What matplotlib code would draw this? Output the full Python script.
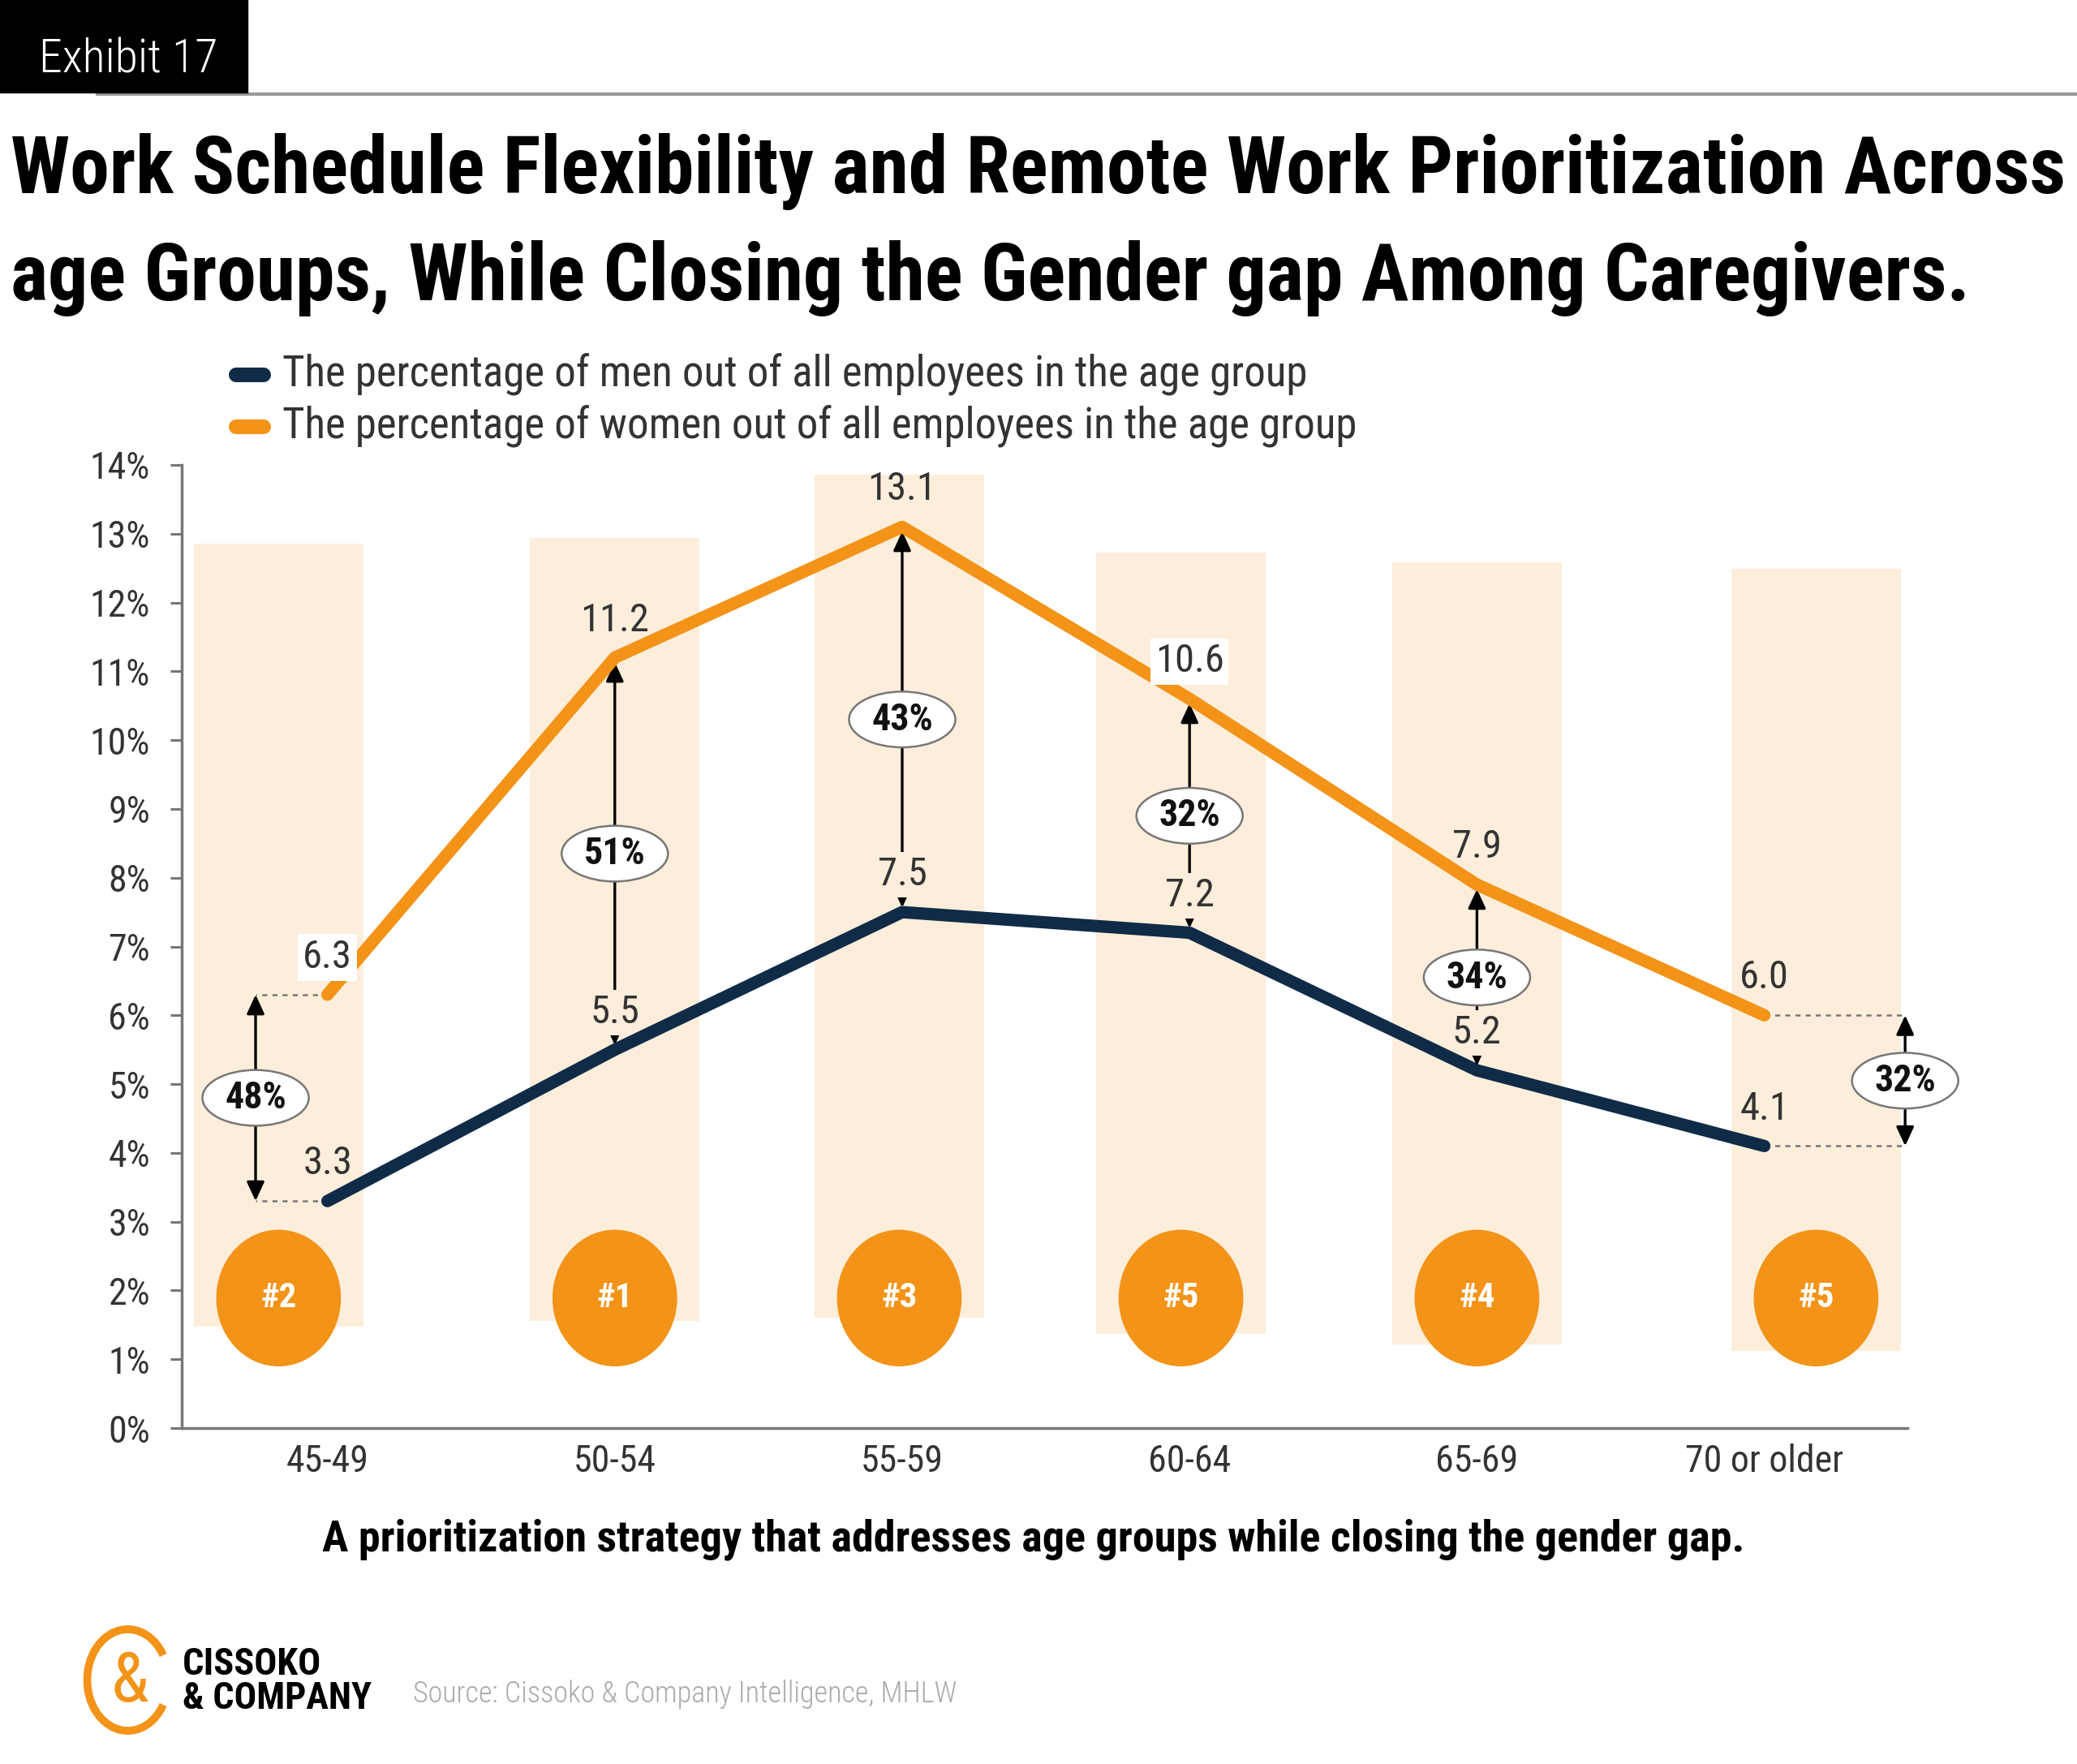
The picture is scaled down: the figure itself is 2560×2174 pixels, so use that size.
import numpy as np
import matplotlib
matplotlib.use("Agg")
import matplotlib.pyplot as plt
from matplotlib.patches import Ellipse, Rectangle, Arc
from matplotlib.lines import Line2D

plt.rcParams['font.family'] = ['Roboto Condensed', 'Liberation Sans Narrow', 'DejaVu Sans']

# data
age_groups = ['45-49', '50-54', '55-59', '60-64', '65-69', '70 or older']
men_pct = [3.3, 5.5, 7.5, 7.2, 5.2, 4.1]
women_pct = [6.3, 11.2, 13.1, 10.6, 7.9, 6.0]
gap_labels = ['48%', '51%', '43%', '32%', '34%', '32%']
priority_rank = ['#2', '#1', '#3', '#5', '#4', '#5']
band_top = [12.86, 12.94, 13.86, 12.73, 12.59, 12.49]
band_bottom = [1.48, 1.56, 1.60, 1.37, 1.21, 1.12]
series_labels = ['The percentage of men out of all employees in the age group',
                 'The percentage of women out of all employees in the age group']
y_ticks = list(range(0, 15))

title_lines = ['Work Schedule Flexibility and Remote Work Prioritization Across',
               'age Groups, While Closing the Gender gap Among Caregivers.']
subtitle = 'A prioritization strategy that addresses age groups while closing the gender gap.'
source = 'Source: Cissoko & Company Intelligence, MHLW'

# colours
ORANGE = '#F39318'
NAVY = '#102B47'
BAND = '#FDEEDB'
GREY = '#777777'
TXT = '#333333'

# layout only
band_shift = [-0.17, 0.0, -0.01, -0.03, 0.0, 0.18]
arrow_shift = [-0.25, 0, 0, 0, 0, 0.49]

W, H = 2560, 2174
fig = plt.figure(figsize=(W / 100, H / 100), dpi=100)
renderer = fig.canvas.get_renderer()


def fy(py):
    return 1 - py / H


def fit(t, width_px):
    bb = t.get_window_extent(renderer)
    t.set_fontsize(t.get_fontsize() * width_px / bb.width)


# header
fig.patches.append(Rectangle((0, fy(114)), 305 / W, 114 / H, transform=fig.transFigure,
                             color='black', zorder=2))
fig.add_artist(Line2D([120 / W, 1], [fy(116), fy(116)], transform=fig.transFigure,
                      color='#9a9a9a', lw=3, zorder=1))
t = fig.text(158 / W, fy(90), 'Exhibit 17', color='white', ha='center', va='baseline',
             fontsize=50, fontweight='light', zorder=3)
fit(t, 220)

t1 = fig.text(13 / W, fy(238), title_lines[0], fontsize=80, fontweight='heavy',
              va='baseline')
fit(t1, 2534)
t2 = fig.text(13 / W, fy(370), title_lines[1], fontsize=t1.get_fontsize(),
              fontweight='heavy', va='baseline')

# legend
for row, (lab, col) in enumerate(zip(series_labels, [NAVY, ORANGE])):
    yy = fy(462 + row * 64)
    fig.add_artist(Line2D([291 / W, 325 / W], [yy, yy], transform=fig.transFigure, color=col,
                          lw=13, solid_capstyle='round'))
    lt = fig.text(348 / W, yy, lab, fontsize=30, color=TXT, va='center')
    fit(lt, 1262 + row * 62)

# main axes
ax = fig.add_axes([224 / W, 1 - 1760 / H, 2127 / W, 1187 / H])
x = np.arange(len(age_groups))

ax.bar(x + np.array(band_shift), np.subtract(band_top, band_bottom), bottom=band_bottom,
       width=0.59, color=BAND, zorder=0)

for i in range(len(x)):
    ax.add_patch(Ellipse((x[i] + band_shift[i], 1.89), 0.43, 1.97, color=ORANGE, zorder=2))
    ax.text(x[i] + band_shift[i], 1.89, priority_rank[i], color='white', fontsize=31,
            fontweight='bold', ha='center', va='center', zorder=3)

ax.plot(x, women_pct, color=ORANGE, lw=11, solid_capstyle='round', solid_joinstyle='round',
        zorder=4, label=series_labels[1])
ax.plot(x, men_pct, color=NAVY, lw=11, solid_capstyle='round', solid_joinstyle='round',
        zorder=4, label=series_labels[0])

# gap arrows
for i in range(len(x)):
    xa = x[i] + arrow_shift[i]
    m, w = men_pct[i], women_pct[i]
    if arrow_shift[i] != 0:
        for v in (m, w):
            ax.plot([x[i], xa], [v, v], ls=(0, (2.5, 2.5)), color=GREY, lw=1.8, zorder=2,
                    clip_on=False)
        shr = 0
    else:
        shr = 4
    ax.annotate('', xy=(xa, w), xytext=(xa, m),
                arrowprops=dict(arrowstyle='<|-|>,head_length=0.65,head_width=0.3',
                                color='black', lw=2.4, shrinkA=shr, shrinkB=shr,
                                mutation_scale=22),
                zorder=3, annotation_clip=False)
    ax.add_patch(Ellipse((xa, (m + w) / 2), 0.37, 0.81, fc='white', ec=GREY, lw=1.8,
                         zorder=7, clip_on=False))
    ax.text(xa, (m + w) / 2, gap_labels[i], fontsize=33, fontweight='bold', color='#111111',
            ha='center', va='center', zorder=8, clip_on=False)

# value labels
for i in range(len(x)):
    wbox = dict(boxstyle='square,pad=0.12', fc='white', ec='none') if i in (0, 3) else None
    ax.annotate(f'{women_pct[i]:.1f}', (x[i], women_pct[i]), xytext=(0, 33),
                textcoords='offset points', ha='center', va='center', fontsize=35,
                color=TXT, zorder=6, bbox=wbox)
    mbox = dict(boxstyle='square,pad=0.1', fc=BAND, ec='none') if 1 <= i <= 4 else None
    ax.annotate(f'{men_pct[i]:.1f}', (x[i], men_pct[i]), xytext=(0, 33),
                textcoords='offset points', ha='center', va='center', fontsize=35,
                color=TXT, zorder=3.5, bbox=mbox)

ax.set_xlim(-0.507, 5.498)
ax.set_ylim(0, 14)
ax.set_yticks(y_ticks)
ax.set_yticklabels([f'{v}%' for v in y_ticks])
ax.set_xticks(x)
ax.set_xticklabels(age_groups)
ax.tick_params(axis='y', length=10, width=2.2, color=GREY, pad=18, labelsize=33,
               labelcolor=TXT)
ax.tick_params(axis='x', length=0, pad=14, labelsize=33, labelcolor=TXT)
for s in ('top', 'right'):
    ax.spines[s].set_visible(False)
for s in ('left', 'bottom'):
    ax.spines[s].set_color(GREY)
    ax.spines[s].set_linewidth(2.5)
ax.set_facecolor('none')

# subtitle
st = fig.text(1274 / W, fy(1897), subtitle, fontsize=32, fontweight='bold', ha='center',
              va='center')
fit(st, 1755)

# footer logo
lax = fig.add_axes([100 / W, fy(2138), 115 / W, 135 / H])
lax.set_xlim(-1.15, 1.15)
lax.set_ylim(-1.35, 1.35)
lax.set_aspect('equal')
lax.axis('off')
lax.add_patch(Arc((0, 0), 2.0, 2.5, theta1=35, theta2=325, lw=7, color=ORANGE))
lax.text(0.05, -0.05, '&', fontsize=62, color=ORANGE, ha='center', va='center')

c1 = fig.text(225 / W, fy(2051), 'CISSOKO', fontsize=28, fontweight='bold', va='center')
fit(c1, 171)
c2 = fig.text(225 / W, fy(2093), '& COMPANY', fontsize=28, fontweight='bold', va='center')
fit(c2, 233)
so = fig.text(509 / W, fy(2088), source, fontsize=28, color='#aaaaaa', fontweight='light',
              va='center')
fit(so, 671)

fig.savefig('out.png', dpi=100, facecolor='white')
